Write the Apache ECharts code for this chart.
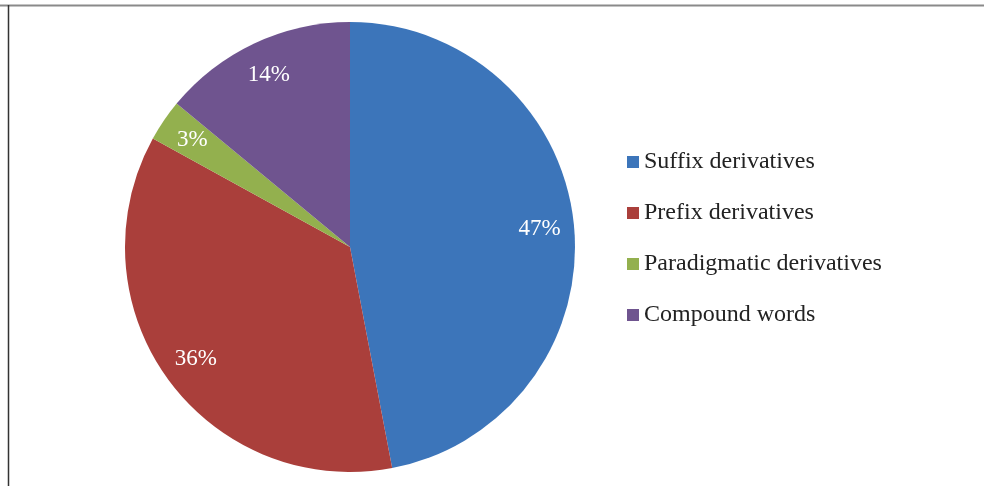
<!DOCTYPE html>
<html>
<head>
<meta charset="utf-8">
<script src="https://cdn.jsdelivr.net/npm/echarts@6/dist/echarts.min.js"></script>
<style>
html,body{margin:0;padding:0;background:#fff;}
#chart{width:984px;height:486px;}
</style>
</head>
<body>
<div id="chart"></div>
<script>
var categories = ['Suffix derivatives', 'Prefix derivatives', 'Paradigmatic derivatives', 'Compound words'];
var values = [47, 36, 3, 14];
var colors = ['#3C75BA', '#AA3F3B', '#93B04E', '#6F548F'];

var chart = echarts.init(document.getElementById('chart'), null, {renderer: 'canvas'});
var pieData = categories.map(function (c, i) {
  return { name: c, value: values[i], itemStyle: { color: colors[i] } };
});
var fontFam = '"Liberation Serif", "Times New Roman", serif';
chart.setOption({
  animation: false,
  backgroundColor: '#fff',
  graphic: [
    { type: 'line', shape: { x1: 0, y1: 5.5, x2: 984, y2: 5.5 }, style: { stroke: '#8a8a8a', lineWidth: 2 }, silent: true },
    { type: 'line', shape: { x1: 8.5, y1: 5, x2: 8.5, y2: 486 }, style: { stroke: '#333', lineWidth: 1.5 }, silent: true }
  ],
  legend: {
    orient: 'vertical',
    left: 622,
    top: 145,
    itemWidth: 12,
    itemHeight: 12,
    itemGap: 27,
    icon: 'rect',
    data: categories,
    textStyle: { fontFamily: fontFam, fontSize: 24, color: '#222', lineHeight: 22 },
    selectedMode: false
  },
  series: [
    {
      type: 'pie',
      center: [350, 247],
      radius: [0, 225],
      startAngle: 90,
      clockwise: true,
      data: pieData,
      silent: true,
      label: { show: false },
      labelLine: { show: false },
      itemStyle: { borderWidth: 0 }
    },
    {
      type: 'pie',
      center: [350, 247],
      radius: [150, 225],
      startAngle: 90,
      clockwise: true,
      data: categories.map(function (c, i) { return { name: c, value: values[i] }; }),
      silent: true,
      itemStyle: { color: 'rgba(0,0,0,0)', borderWidth: 0 },
      label: {
        show: true,
        position: 'inside',
        formatter: '{c}%',
        color: '#fff',
        fontFamily: fontFam,
        fontSize: 23
      },
      labelLine: { show: false }
    }
  ]
});
</script>
</body>
</html>
